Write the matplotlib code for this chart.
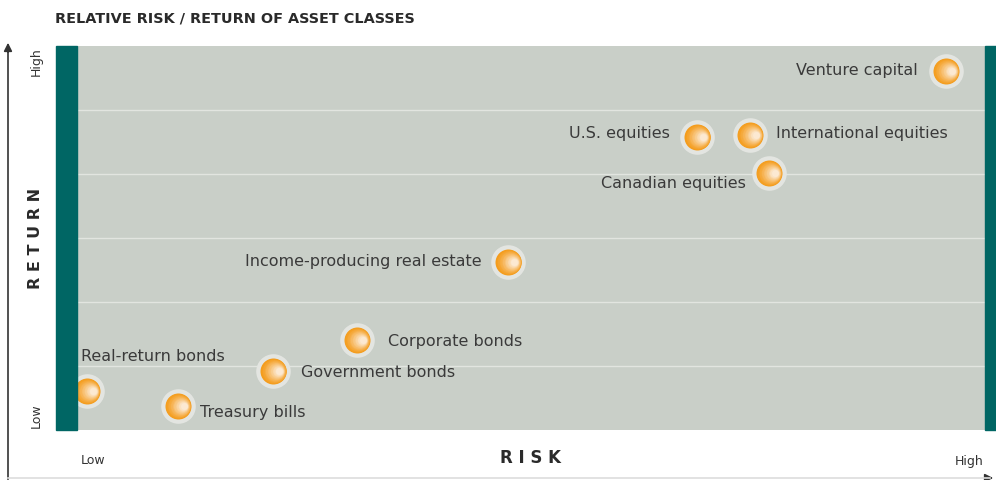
import numpy as np
import matplotlib.pyplot as plt
import matplotlib.transforms as mtransforms
from matplotlib.patches import Rectangle

# dati (rischio / rendimento relativi, scala 0-100)
nomi = ['Venture capital', 'U.S. equities', 'International equities', 'Canadian equities',
        'Income-producing real estate', 'Corporate bonds', 'Government bonds',
        'Real-return bonds', 'Treasury bills']
rischio = [95.7, 68.3, 74.1, 76.2, 47.5, 30.8, 21.6, 1.1, 11.1]
rendimento = [93.5, 76.3, 76.8, 66.9, 43.8, 23.4, 15.4, 10.2, 6.25]

# posizione delle etichette (offset in pixel, allineamento)
etichette_pos = [(-28, 0, 'right'), (-27, 4, 'right'), (26, 2, 'left'), (-23, -10, 'right'),
                 (-27, 0, 'right'), (31, -1, 'left'), (28, -2, 'left'),
                 (-6, 34, 'left'), (22, -6, 'left')]

plt.rcParams['font.family'] = ['DejaVu Sans']

fig = plt.figure(figsize=(9.96, 4.8), dpi=100)
W, H = 996, 480

def fx(px):
    return px / W

def fy(py):
    return 1 - py / H

ax = fig.add_axes([fx(77), fy(430), 908 / W, 384 / H])
ax.set_facecolor('#c9cfc8')
ax.set_xlim(0, 100)
ax.set_ylim(0, 100)
for s in ax.spines.values():
    s.set_visible(False)
ax.set_xticks([])
ax.set_yticks([])

# righe orizzontali bianche
for g in [100 / 6 * k for k in range(1, 6)]:
    ax.axhline(g, color='#e2e5e0', lw=1.0, zorder=1)

# barre verdi laterali
teal = '#006664'
fig.patches.append(Rectangle((fx(56), fy(430)), 21 / W, 384 / H, transform=fig.transFigure,
                             color=teal, zorder=0))
fig.patches.append(Rectangle((fx(985), fy(430)), 11 / W, 384 / H, transform=fig.transFigure,
                             color=teal, zorder=0))

# palline arancioni con anello grigio
ax.scatter(rischio, rendimento, s=620, color='#e3e5e1', zorder=3, clip_on=False, linewidths=0)
c0 = np.array([0xf4, 0x9c, 0x1c]) / 255
c1 = np.array([0xfc, 0xe9, 0xd2]) / 255
n = 14
for i in range(n):
    t = i / (n - 1)
    d = 26 * (1 - t) + 7 * t   # diametro in pixel
    off = 6 * t
    tr = mtransforms.offset_copy(ax.transData, fig=fig, x=off, y=0, units='dots')
    col = c0 + (c1 - c0) * t ** 1.2
    ax.scatter(rischio, rendimento, s=(d * 0.72) ** 2, color=col, zorder=4 + i,
               clip_on=False, linewidths=0, transform=tr)

for nome, x, y, (dx, dy, ha) in zip(nomi, rischio, rendimento, etichette_pos):
    ax.annotate(nome, (x, y), xytext=(dx, dy), textcoords='offset pixels',
                ha=ha, va='center', fontsize=11.5, color='#3a3a3a', zorder=30)

# titolo e assi
fig.text(fx(55), fy(19), 'RELATIVE RISK / RETURN OF ASSET CLASSES', fontsize=10.4,
         fontweight='bold', color='#2a2a2a', va='center', ha='left')
fig.text(fx(530), fy(458), 'R I S K', fontsize=12, fontweight='bold', color='#2a2a2a',
         ha='center', va='center')
fig.text(fx(36), fy(238), 'R E T U R N', fontsize=11.5, fontweight='bold', color='#2a2a2a',
         ha='center', va='center', rotation=90)
fig.text(fx(93), fy(461), 'Low', fontsize=9, color='#333333', ha='center', va='center')
fig.text(fx(969), fy(461), 'High', fontsize=9, color='#333333', ha='center', va='center')
fig.text(fx(36), fy(416), 'Low', fontsize=9, color='#333333', ha='center', va='center', rotation=90)
fig.text(fx(36), fy(62), 'High', fontsize=9, color='#333333', ha='center', va='center', rotation=90)

# frecce degli assi
fig.add_artist(plt.Line2D([fx(8), fx(8)], [fy(479), fy(50)], transform=fig.transFigure,
                          color='#333333', lw=1.2))
fig.add_artist(plt.Line2D([fx(8), fx(990)], [fy(478), fy(478)], transform=fig.transFigure,
                          color='#dddddd', lw=1.2))
ax.annotate('', xy=(fx(8), fy(40)), xytext=(fx(8), fy(55)), xycoords='figure fraction',
            textcoords='figure fraction',
            arrowprops=dict(arrowstyle='-|>', color='#333333', lw=1.2, mutation_scale=12))
ax.annotate('', xy=(fx(996), fy(478)), xytext=(fx(985), fy(478)), xycoords='figure fraction',
            textcoords='figure fraction',
            arrowprops=dict(arrowstyle='-|>', color='#333333', lw=1.2, mutation_scale=12))

plt.savefig('out.png', dpi=100)
